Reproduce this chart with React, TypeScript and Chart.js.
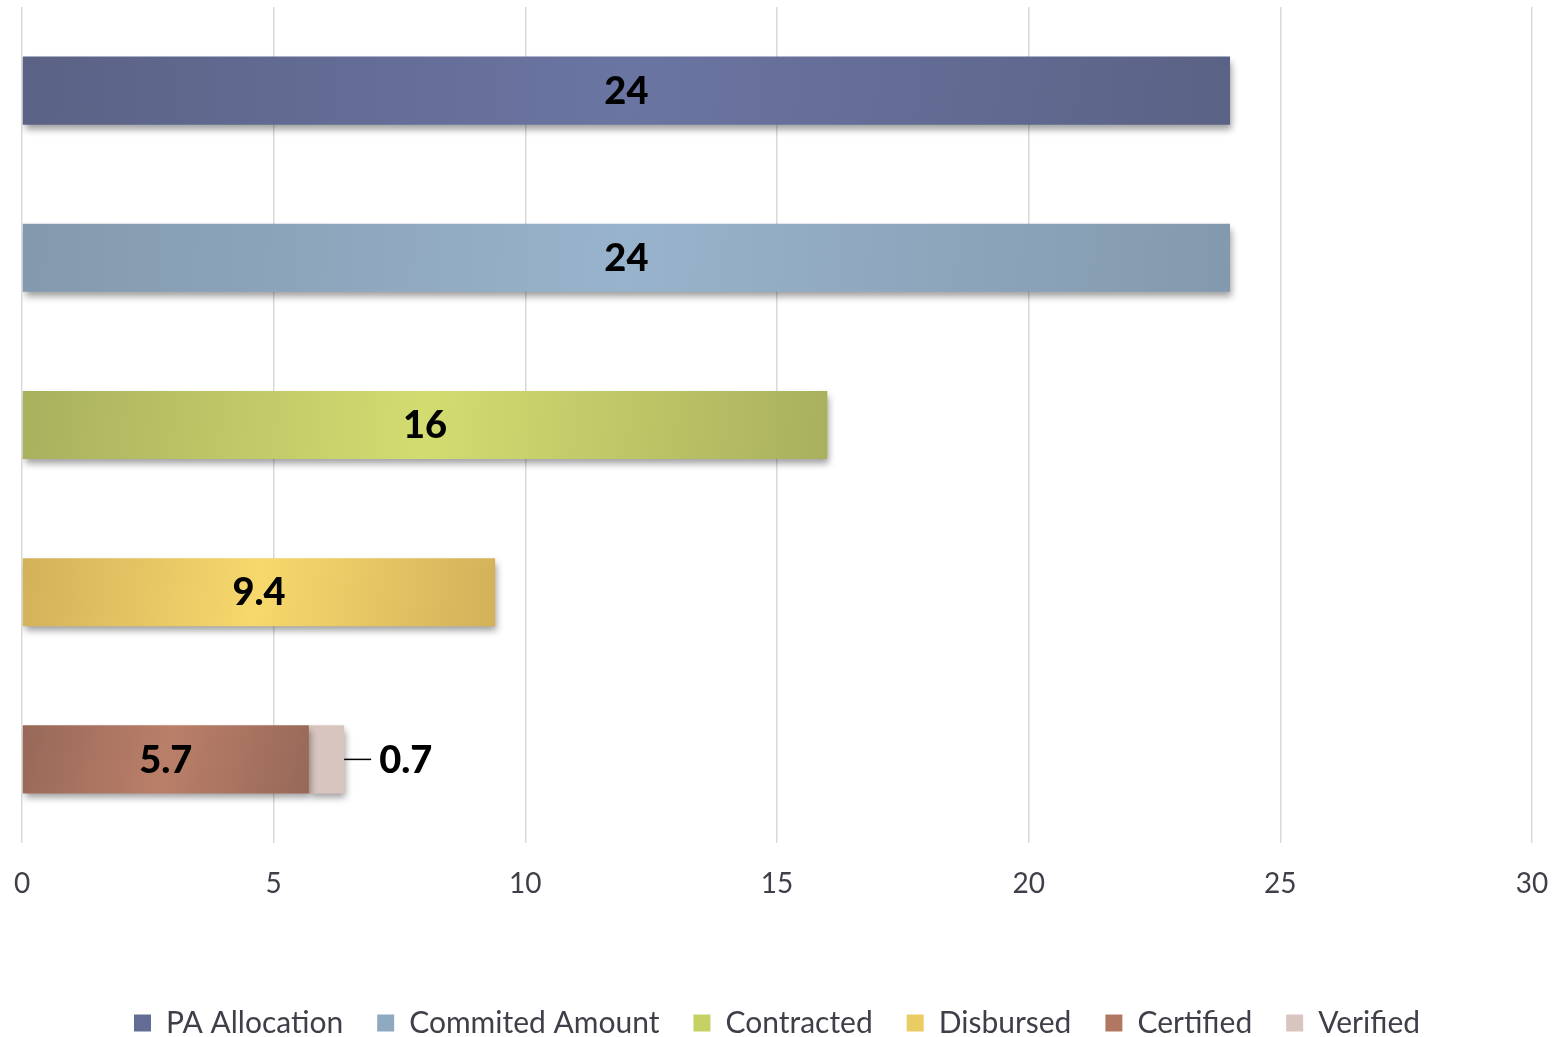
import { useEffect, useRef } from 'react';
import { Chart, registerables } from 'chart.js';

Chart.register(...registerables);

const categories = ['PA Allocation', 'Commited Amount', 'Contracted', 'Disbursed', 'Certified'];
const seriesNames = ['PA Allocation', 'Commited Amount', 'Contracted', 'Disbursed', 'Certified', 'Verified'];
const paAllocation = [24, null, null, null, null];
const commitedAmount = [null, 24, null, null, null];
const contracted = [null, null, 16, null, null];
const disbursed = [null, null, null, 9.4, null];
const certified = [null, null, null, null, 5.7];
const verified = [null, null, null, null, 0.7];
const xTickValues = [0, 5, 10, 15, 20, 25, 30];

const seriesData = [paAllocation, commitedAmount, contracted, disbursed, certified, verified];
// [edge, middle] colours for gradients
const seriesColors: [string, string][] = [
  ['#5a6285', '#6b75a2'],
  ['#8399ad', '#98b3cc'],
  ['#a9b05e', '#d3dc70'],
  ['#d2b15a', '#f6d86c'],
  ['#976858', '#ba7f69'],
  ['#d9c5bf', '#d9c5bf'],
];
const legendColors = ['#636c94', '#8fa9c1', '#c5d263', '#eacd62', '#b07763', '#d9c5bf'];

const FONT = 'Lato, "Open Sans", sans-serif';

const shadowPlugin = {
  id: 'barShadow',
  beforeDatasetsDraw(chart: any) {
    const ctx = chart.ctx;
    ctx.save();
    ctx.shadowColor = 'rgba(0,0,0,0.38)';
    ctx.shadowBlur = 7;
    ctx.shadowOffsetX = 2;
    ctx.shadowOffsetY = 5;
  },
  afterDatasetsDraw(chart: any) {
    chart.ctx.restore();
  },
};

const labelPlugin = {
  id: 'valueLabels',
  afterDatasetsDraw(chart: any) {
    const ctx = chart.ctx;
    ctx.save();
    ctx.shadowColor = 'transparent';
    ctx.fillStyle = '#000';
    ctx.font = `900 38px ${FONT}`;
    ctx.textBaseline = 'middle';
    chart.data.datasets.forEach((ds: any, di: number) => {
      const meta = chart.getDatasetMeta(di);
      meta.data.forEach((el: any, i: number) => {
        const v = ds.data[i];
        if (v === null || v === undefined) return;
        const text = String(v);
        if (di === 5) {
          const xr = el.x;
          ctx.strokeStyle = '#000';
          ctx.lineWidth = 1.5;
          ctx.beginPath();
          ctx.moveTo(xr, el.y);
          ctx.lineTo(xr + 27, el.y);
          ctx.stroke();
          ctx.textAlign = 'left';
          ctx.fillText(text, xr + 35, el.y + 1);
        } else {
          ctx.textAlign = 'center';
          ctx.fillText(text, (el.x + el.base) / 2, el.y + 1);
        }
      });
    });
    ctx.restore();
  },
};

export default function App() {
  const ref = useRef<HTMLCanvasElement>(null);
  useEffect(() => {
    if (!ref.current) return;
    const makeBg = (si: number) => (c: any) => {
      const chart = c.chart;
      if (!chart.chartArea || c.type !== 'data') return seriesColors[si][1];
      const v = c.raw;
      if (v === null || v === undefined) return seriesColors[si][1];
      const xs = chart.scales.x;
      const ys = chart.scales.y;
      let start = 0;
      if (si === 5) start = certified[c.dataIndex] || 0;
      const x0 = xs.getPixelForValue(start);
      const x1 = xs.getPixelForValue(start + v);
      const yc = ys.getPixelForValue(c.dataIndex);
      const g = chart.ctx.createLinearGradient(x0, yc - 34, x1, yc + 34);
      g.addColorStop(0, seriesColors[si][0]);
      g.addColorStop(0.5, seriesColors[si][1]);
      g.addColorStop(1, seriesColors[si][0]);
      return g;
    };
    const chart = new Chart(ref.current, {
      type: 'bar',
      data: {
        labels: categories,
        datasets: seriesData.map((d, si) => ({
          label: seriesNames[si],
          data: d,
          backgroundColor: makeBg(si),
          borderWidth: 0,
          categoryPercentage: 1,
          barPercentage: 0.407,
        })),
      },
      options: {
        indexAxis: 'y',
        responsive: false,
        animation: false,
        layout: { padding: { left: 22, right: 23, top: 7, bottom: -11 } },
        scales: {
          x: {
            stacked: true,
            min: 0,
            max: 30,
            afterBuildTicks: (s: any) => {
              s.ticks = xTickValues.map((v) => ({ value: v }));
            },
            afterFit: (s: any) => {
              s.height = 131;
              s.paddingLeft = 0;
              s.paddingRight = 0;
            },
            grid: { color: '#d9d9dc', lineWidth: 1.5, drawTicks: false },
            border: { display: false },
            ticks: {
              padding: 24,
              color: '#3f3f4a',
              font: { family: FONT, size: 28 },
            },
          },
          y: {
            stacked: true,
            display: false,
          },
        },
        plugins: {
          legend: {
            position: 'bottom',
            labels: {
              boxWidth: 17,
              boxHeight: 17,
              padding: 34,
              color: '#3f3f4a',
              font: { family: FONT, size: 30 },
              generateLabels: () =>
                seriesNames.map((n, i) => ({
                  text: n,
                  fillStyle: legendColors[i],
                  strokeStyle: legendColors[i],
                  lineWidth: 0,
                  hidden: false,
                  datasetIndex: i,
                  fontColor: '#3f3f4a',
                })),
            },
          },
          tooltip: { enabled: false },
          title: { display: false },
        },
      },
      plugins: [shadowPlugin, labelPlugin],
    });
    return () => chart.destroy();
  }, []);
  return (
    <div style={{ position: 'fixed', left: 0, top: 0, width: 1555, height: 1037, background: '#fff' }}>
      <canvas ref={ref} width={1555} height={1037} style={{ display: 'block' }} />
    </div>
  );
}
